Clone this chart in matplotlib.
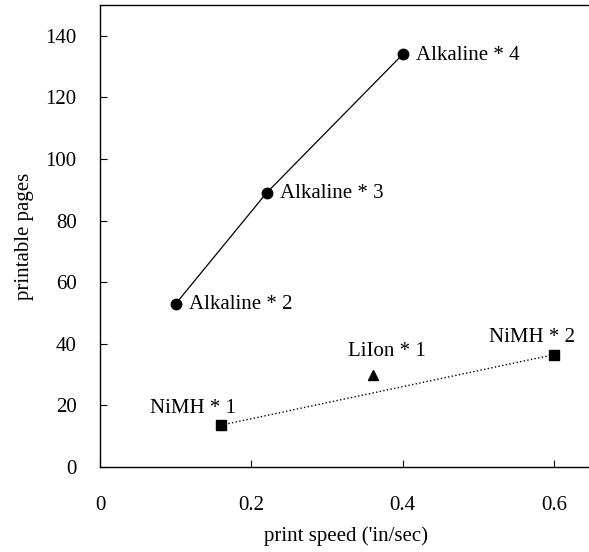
import matplotlib.pyplot as plt

plt.rcParams['font.family'] = ['Liberation Serif', 'DejaVu Serif']

alk_speed = [0.10, 0.22, 0.40]
alk_pages = [53, 89, 134]
alk_labels = ["Alkaline * 2", "Alkaline * 3", "Alkaline * 4"]

nimh_speed = [0.16, 0.60]
nimh_pages = [13.6, 36.5]
nimh_labels = ["NiMH * 1", "NiMH * 2"]

liion_speed = [0.36]
liion_pages = [30]
liion_labels = ["LiIon * 1"]

fs = 15

fig = plt.figure(figsize=(5.89, 5.52), dpi=100)
ax = fig.add_axes([0.170, 0.154, 0.835, 0.837])

ax.plot(alk_speed, alk_pages, '-o', color='black', linewidth=0.9, markersize=7.5)
ax.plot(nimh_speed, nimh_pages, ':s', color='black', linewidth=1.0, markersize=7)
ax.plot(liion_speed, liion_pages, '^', color='black', markersize=6.5)

# labels (offsets in pixels)
for x, y, s in zip(alk_speed, alk_pages, alk_labels):
    ax.annotate(s, (x, y), xytext=(13, -1), textcoords='offset pixels',
                ha='left', va='center', fontsize=fs)
ax.annotate(nimh_labels[0], (nimh_speed[0], nimh_pages[0]), xytext=(-28, 17),
            textcoords='offset pixels', ha='center', va='center', fontsize=fs)
ax.annotate(nimh_labels[1], (nimh_speed[1], nimh_pages[1]), xytext=(-22, 17),
            textcoords='offset pixels', ha='center', va='center', fontsize=fs)
ax.annotate(liion_labels[0], (liion_speed[0], liion_pages[0]), xytext=(14, 23),
            textcoords='offset pixels', ha='center', va='center', fontsize=fs)

ax.set_xlim(0, 0.65)
ax.set_ylim(0, 150)
ax.set_xticks([0, 0.2, 0.4, 0.6])
ax.set_xticklabels(['0', '0.2', '0.4', '0.6'])
ax.set_yticks(range(0, 141, 20))
ax.tick_params(direction='in', length=5, width=0.8, labelsize=fs)
ax.tick_params(axis='x', pad=21)
ax.tick_params(axis='y', pad=17)
ax.spines['right'].set_visible(False)
for sp in ['left', 'bottom', 'top']:
    ax.spines[sp].set_linewidth(1.0)

ax.set_xlabel("print speed ('in/sec)", fontsize=fs, labelpad=8)
ax.set_ylabel("printable pages", fontsize=fs, labelpad=8)

fig.savefig('out.png', dpi=100)
